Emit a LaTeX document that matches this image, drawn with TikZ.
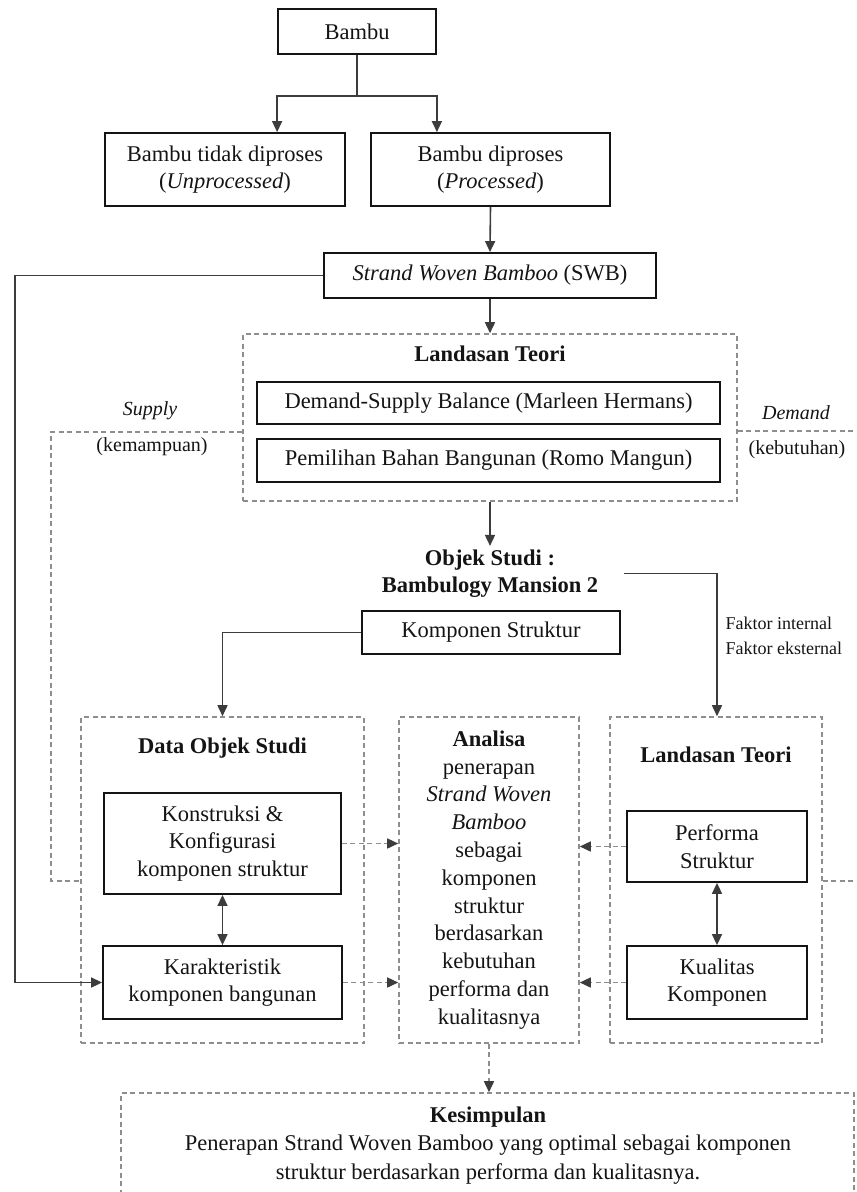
\documentclass[tikz,border=0pt]{standalone}
\usepackage{fontspec}
\setmainfont{Liberation Serif}
\usetikzlibrary{arrows.meta,calc,positioning}
\definecolor{SWBInk}{HTML}{141414}
\definecolor{SWBLine}{HTML}{3C3C3C}
\definecolor{SWBDash}{HTML}{8E8E8E}
\newcommand{\mainsize}{\fontsize{22.5}{27.5}\selectfont}

\begin{document}
\begin{tikzpicture}[
  x=1pt,y=-1pt,
  font=\mainsize,text=SWBInk,
  box/.style={rectangle,draw=SWBInk,line width=1.8pt,align=center,inner sep=2pt},
  group/.style={rectangle,draw=SWBDash,line width=1.6pt,dash pattern=on 5pt off 3.5pt,inner sep=0pt,align=center},
  title/.style={font=\mainsize\bfseries,align=center},
  side/.style={font=\fontsize{20}{24}\selectfont},
  flow/.style={-{Triangle[length=11pt,width=10pt]},line width=1.6pt,draw=SWBLine},
  both/.style={{Triangle[length=11pt,width=10pt]}-{Triangle[length=11pt,width=10pt]},line width=1.6pt,draw=SWBLine},
  link/.style={-{Triangle[length=11pt,width=10pt,color=SWBLine]},line width=1.6pt,draw=SWBDash,dash pattern=on 5pt off 3.5pt},
  guide/.style={line width=1.5pt,draw=SWBDash,dash pattern=on 5pt off 3.5pt}
]
\path[use as bounding box,clip] (0,0) rectangle (857,1192);

\node[box,minimum width=158,minimum height=45] (bambu) at (357,31.5) {Bambu};
\node[box,minimum width=240,minimum height=73] (unproc) at (225,169.5) {Bambu tidak diproses\\(\textit{Unprocessed})};
\node[box,minimum width=239,minimum height=73] (proc) at (490.5,169.5) {Bambu diproses\\(\textit{Processed})};
\node[box,minimum width=332,minimum height=45] (swb) at (490,275.5) {\textit{Strand Woven Bamboo} (SWB)};

\node[group,minimum width=494,minimum height=167] (teoriA) at (490,417.5) {};
\node[title] (teoriAt) at (490,354) {Landasan Teori};
\node[box,minimum width=463,minimum height=42] (dsb) at (488.5,403) {Demand-Supply Balance (Marleen Hermans)};
\node[box,minimum width=463,minimum height=43] (pbb) at (488.5,460.5) {Pemilihan Bahan Bangunan (Romo Mangun)};
\node[side] (supply) at (150,411) {\textit{Supply}};
\node[side] (mampu) at (152,447) {(kemampuan)};
\node[side] (demand) at (796,413) {\textit{Demand}};
\node[side] (butuh) at (797,450) {(kebutuhan)};

\node[title,minimum width=268] (objek) at (490,573.5) {Objek Studi :\\Bambulogy Mansion 2};
\node[font=\fontsize{18}{25}\selectfont,anchor=west,align=left] (faktor) at (722,635.5) {Faktor internal\\Faktor eksternal};
\node[box,minimum width=258,minimum height=43] (komp) at (491,632.5) {Komponen Struktur};

\node[group,minimum width=283,minimum height=326] (data) at (222.5,880) {};
\node[title] (datat) at (222.5,748) {Data Objek Studi};
\node[box,minimum width=237,minimum height=101] (kons) at (222.5,843.5) {Konstruksi \&\\Konfigurasi\\komponen struktur};
\node[box,minimum width=239,minimum height=73] (karak) at (222.5,982.5) {Karakteristik\\komponen bangunan};

\node[group,minimum width=180,minimum height=326,font=\fontsize{22.5}{27.8}\selectfont] (analisa) at (489,880)
  {\textbf{Analisa}\\penerapan\\\textit{Strand Woven}\\\textit{Bamboo}\\sebagai\\komponen\\struktur\\berdasarkan\\kebutuhan\\performa dan\\kualitasnya};

\node[group,minimum width=212,minimum height=326] (teoriB) at (716,880) {};
\node[title] (teoriBt) at (716,755) {Landasan Teori};
\node[box,minimum width=180,minimum height=71] (perf) at (717,846.5) {Performa\\Struktur};
\node[box,minimum width=180,minimum height=73] (kual) at (717,982.5) {Kualitas\\Komponen};

\node[group,minimum width=733,minimum height=112] (kesim) at (487.5,1149) {};
\node[font=\fontsize{22.5}{28.5}\selectfont,align=center] (kesimt) at (488,1145.5)
  {\textbf{Kesimpulan}\\Penerapan Strand Woven Bamboo yang optimal sebagai komponen\\struktur berdasarkan performa dan kualitasnya.};

\coordinate (split) at (357,96);
\coordinate (edgeA) at (860,431);
\coordinate (edgeB) at (860,881);

\draw[line width=1.6pt,draw=SWBLine] (bambu.south) -- (split);
\draw[flow] (split) -| (unproc.north -| bambu.west);
\draw[flow] (split) -| (proc.north -| bambu.east);
\draw[flow] (proc.south) -- (swb.north);
\draw[flow] (swb.south) -- (teoriA.north);
\draw[flow] (teoriA.south) -- (objek.north);
\draw[flow] (objek.east) -| (teoriB.north -| perf.north);
\draw[flow] (komp.west) -| (data.north);
\draw[flow] (swb.west) -| (15,982.5) -- (karak.west);
\draw[both] (kons.south) -- (karak.north);
\draw[both] (perf.south) -- (kual.north);

\foreach \n in {kons,karak} {
  \draw[link] (\n.east) -- (\n.east -| analisa.west);
}
\foreach \n in {perf,kual} {
  \draw[link] (\n.west) -- (\n.west -| analisa.east);
}
\draw[link] (analisa.south) -- (analisa.south |- kesim.north);

\draw[guide] (teoriA.west |- 0,432) -- (51,432) |- (data.west |- 0,881);
\draw[guide] (teoriA.east |- edgeA) -- (edgeA);
\draw[guide] (teoriB.east |- edgeB) -- (edgeB);
\end{tikzpicture}
\end{document}
